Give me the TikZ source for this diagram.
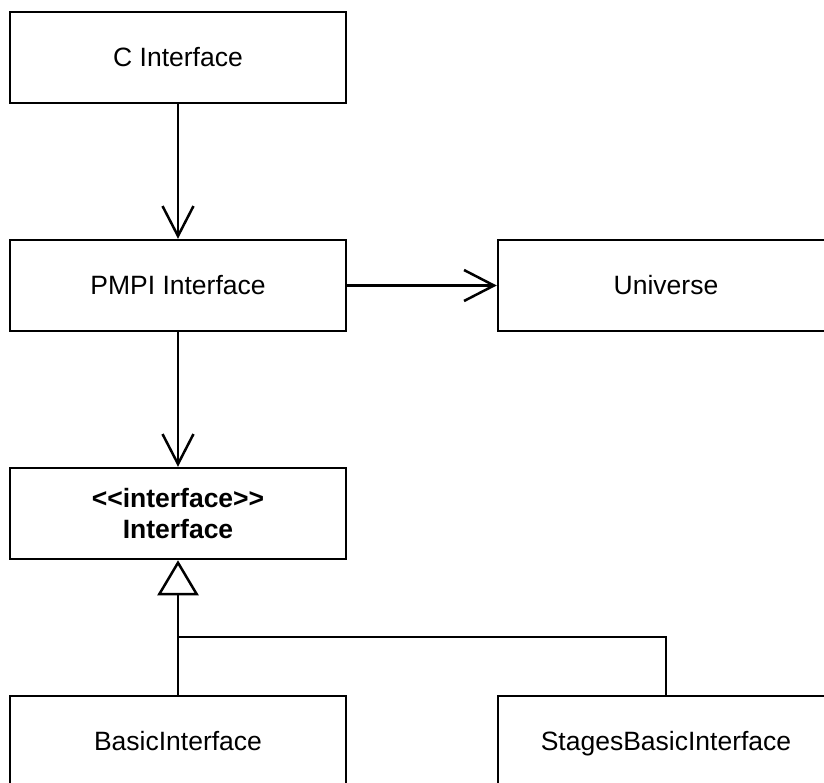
\documentclass[tikz,border=0pt]{standalone}
\usepackage{fontspec}
\setmainfont{Liberation Sans}
\usetikzlibrary{arrows.meta,positioning}

\begin{document}
\begin{tikzpicture}[
    x=1pt, y=1pt,
    cls/.style = {rectangle, draw, line width=2.5pt, minimum width=336pt, minimum height=91pt, inner sep=0pt, align=center, font=\fontsize{26.5}{31}\selectfont},
    oneline/.style = {cls, text height=19pt, text depth=2pt},
    assoc/.style = {-{Straight Barb[length=30pt, width=31pt, line width=2.5pt]}, line width=2.5pt},
    inherit/.style = {-{Triangle[open, length=35pt, width=41pt, line width=2.5pt]}, line width=2.5pt},
    plain/.style = {line width=2.5pt}
]
    \useasboundingbox (0,0) rectangle (824,-782);
    \node[oneline] (cif) at (178,-57.5) {C Interface};
    \node[oneline] (pmpi) at (178,-285.5) {PMPI Interface};
    \node[oneline] (universe) at (666,-285.5) {Universe};
    \node[cls] (iface) at (178,-513.5) {\textbf{<{}<interface>{}>}\\\textbf{Interface}};
    \node[oneline] (basic) at (178,-741.5) {BasicInterface};
    \node[oneline] (stages) at (666,-741.5) {StagesBasicInterface};
    \coordinate (join) at (178,-637);
    \draw[assoc] (cif) -- (pmpi);
    \draw[assoc] (pmpi) -- (universe);
    \draw[assoc] (pmpi) -- (iface);
    \draw[inherit] (basic) -- (iface);
    \draw[plain] (stages.north) |- (join);
\end{tikzpicture}
\end{document}
